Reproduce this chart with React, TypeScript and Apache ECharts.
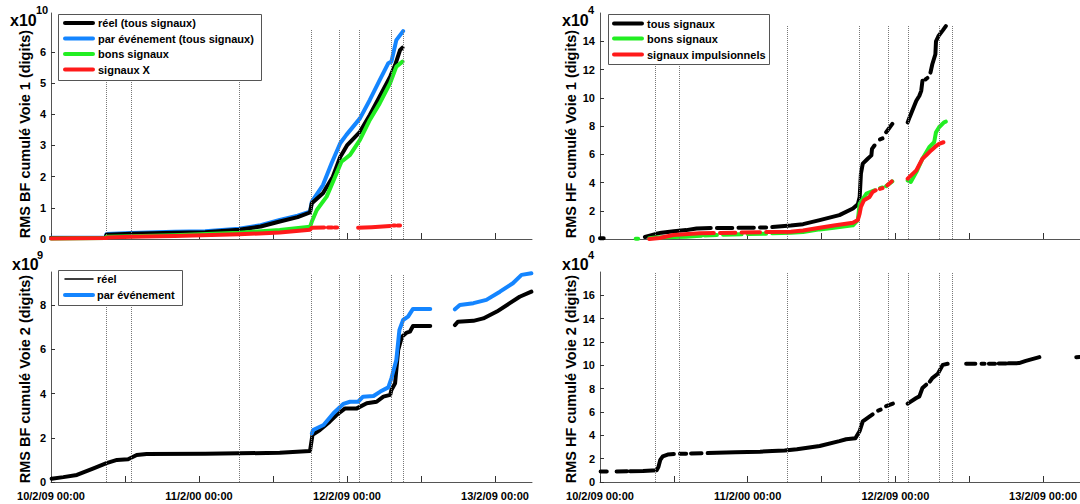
import React, { useEffect, useRef } from 'react';
import * as echarts from 'echarts';

const G = '-';

// time axis (hours since 10/2/09 00:00)
const xTickHours = [0, 12, 24, 36, 48, 60, 72];
const xLabelHours = [0, 24, 48, 72];
const xTickLabels = ['10/2/09 00:00', '11/2/00 00:00', '12/2/09 00:00', '13/2/09 00:00'];
const eventHours = [8.95, 12.95, 30.5, 42.2, 46.8, 50.05, 55.2, 57.2];

// y ticks
const yTicksTL = [0, 1, 2, 3, 4, 5, 6];
const yTicksBL = [0, 2, 4, 6, 8];
const yTicksTR = [0, 2, 4, 6, 8, 10, 12, 14];
const yTicksBR = [0, 2, 4, 6, 8, 10, 12, 14, 16];

// Top-left: RMS BF cumulé Voie 1 (x1e10)
const tlReel = [[0, 0.03], [8.9, 0.04], [9.0, 0.14], [13, 0.17], [20, 0.2], [25, 0.22], [30.5, 0.3], [34, 0.4], [37.1, 0.56], [40, 0.7], [42.0, 0.85], [42.3, 1.15], [44.1, 1.47], [45.7, 2.0], [46.9, 2.63], [48.0, 3.0], [50.1, 3.44], [51.7, 3.98], [53.3, 4.57], [55.0, 5.21], [55.8, 5.58], [56.6, 6.06], [57.0, 6.14]];
const tlEvenement = [[0, 0.04], [8.9, 0.05], [9.0, 0.16], [13, 0.19], [20, 0.23], [25, 0.25], [30.5, 0.33], [34, 0.44], [37.1, 0.61], [40, 0.75], [42.0, 0.88], [42.3, 1.2], [44.1, 1.73], [45.5, 2.43], [46.9, 3.07], [47.9, 3.34], [50.1, 3.87], [51.7, 4.46], [53.3, 5.1], [54.7, 5.64], [55.2, 5.69], [56.0, 6.38], [57.1, 6.67]];
const tlBons = [[0, 0.02], [8.9, 0.03], [9.0, 0.07], [13, 0.09], [20, 0.12], [30.5, 0.2], [37.1, 0.29], [42.0, 0.39], [42.3, 0.56], [43.1, 0.93], [44.7, 1.36], [46.3, 2.1], [47.1, 2.48], [48.5, 2.7], [50.1, 3.18], [51.7, 3.82], [53.3, 4.35], [55.0, 5.0], [56.0, 5.53], [57.0, 5.69]];
const tlX = [[0, 0.02], [9.0, 0.03], [9.1, 0.05], [13, 0.07], [20, 0.1], [30.5, 0.15], [37.1, 0.21], [42.0, 0.3], [42.3, 0.36], [44.3, 0.37], [44.5, G], [44.9, 0.37], [45.6, 0.37], [45.8, G], [46.0, 0.37], [46.4, 0.37], [46.6, G], [49.8, 0.36], [52, 0.38], [55.0, 0.42], [55.2, G], [55.5, 0.43], [55.8, 0.43], [56.0, G], [56.2, 0.43], [56.6, 0.43]];

// Top-right: RMS HF cumulé Voie 1 (x1e4)
const trTous = [[0, 0.05], [0.6, 0.05], [1, G], [7.3, 0.14], [9.0, 0.35], [10, 0.45], [12, 0.55], [14, 0.63], [15.7, 0.75], [18, 0.78], [18.4, G], [19, 0.78], [21.5, 0.78], [22, G], [22.5, 0.8], [25, 0.8], [25.5, G], [26, 0.82], [27, 0.82], [27.5, G], [28, 0.85], [31, 0.95], [33, 1.05], [35.7, 1.34], [38.9, 1.69], [41.1, 2.16], [41.9, 2.46], [42.2, 2.98], [42.4, 4.63], [42.7, 5.33], [43.5, 5.68], [44.1, 5.92], [44.2, 6.38], [44.6, 6.62], [45.0, G], [45.5, 7.05], [45.9, 7.12], [46.1, G], [46.5, 7.56], [47.5, 8.15], [48, G], [50.0, 8.26], [50.3, 8.61], [51.4, 9.79], [51.9, 10.14], [52.2, 10.49], [52.4, 11.2], [52.6, G], [52.9, 11.3], [53.2, 11.4], [53.4, G], [53.7, 11.78], [54.0, 12.37], [54.5, 13.08], [54.6, 14.0], [55.0, 14.37], [55.7, 14.77], [56.2, 15.07]];
const trBons = [[5.8, 0.02], [6.2, 0.02], [6.5, G], [8.0, 0.05], [9.0, 0.1], [12, 0.15], [14, 0.16], [15.7, 0.21], [16.5, 0.23], [16.8, G], [17, 0.25], [19, 0.28], [19.5, G], [20, 0.3], [23, 0.33], [23.5, G], [24, 0.35], [27, 0.38], [27.5, G], [28, 0.4], [31, 0.45], [33, 0.5], [35.7, 0.68], [38, 0.8], [41.1, 0.97], [41.9, 1.34], [42.2, 2.51], [43.3, 3.22], [44.6, 3.45], [45.0, G], [45.5, 3.6], [45.9, 3.65], [46.1, G], [46.5, 3.75], [47.5, 4.08], [48, G], [50.0, 4.15], [50.5, 4.04], [51.4, 4.74], [52.4, 5.68], [53.5, 6.5], [54.3, 6.85], [54.6, 7.56], [55.1, 7.91], [55.9, 8.26], [56.2, 8.31]];
const trImpulsionnels = [[8.0, 0.0], [9.7, 0.07], [11.9, 0.28], [16.2, 0.4], [18.5, 0.42], [19, G], [19.5, 0.43], [22, 0.45], [22.5, G], [23, 0.46], [26, 0.48], [26.5, G], [27, 0.5], [31, 0.52], [33, 0.6], [35.7, 0.8], [38, 0.95], [41.1, 1.15], [41.9, 1.34], [42.2, 1.81], [42.4, 2.28], [42.9, 2.75], [43.8, 2.98], [44.3, 3.33], [44.8, 3.45], [45.0, G], [45.5, 3.55], [45.9, 3.6], [46.1, G], [46.7, 3.8], [47.4, 4.08], [48, G], [50.0, 4.27], [51.4, 4.86], [52.4, 5.68], [53.0, 5.92], [53.8, 6.27], [54.4, 6.5], [55.1, 6.74], [55.8, 6.85]];

// Bottom-left: RMS BF cumulé Voie 2 (x1e9)
const blReel = [[0.1, 0.15], [2, 0.22], [4.2, 0.32], [6.9, 0.62], [9.0, 0.85], [10.7, 1.0], [12.5, 1.03], [13.9, 1.22], [15.5, 1.27], [25, 1.28], [37.1, 1.32], [42.0, 1.4], [42.4, 2.13], [43.6, 2.35], [45.2, 2.73], [46.3, 3.03], [47.7, 3.33], [49.6, 3.33], [51.2, 3.56], [52.8, 3.63], [53.9, 3.86], [55.0, 3.94], [55.2, 4.16], [55.8, 4.47], [56.3, 5.97], [56.9, 6.57], [57.7, 6.76], [58.2, 6.8], [58.7, 7.06], [61.5, 7.06], [62, G], [65.5, 7.1], [66.0, 7.25], [68.5, 7.29], [70.1, 7.4], [72.3, 7.71], [74.4, 8.09], [76.0, 8.38], [77.9, 8.61]];
const blEvenement = [[42.3, 2.2], [42.5, 2.35], [44.2, 2.58], [45.8, 3.11], [47.4, 3.53], [48.5, 3.63], [49.8, 3.63], [50.6, 3.86], [52.3, 3.89], [53.4, 4.09], [54.7, 4.28], [55.2, 4.69], [56.0, 5.52], [56.5, 6.88], [57.1, 7.33], [57.9, 7.48], [58.7, 7.83], [61.5, 7.83], [62, G], [65.5, 7.81], [66.3, 8.01], [68.5, 8.09], [70.6, 8.24], [72.8, 8.61], [74.9, 8.99], [76.3, 9.37], [77.9, 9.44]];

// Bottom-right: RMS HF cumulé Voie 2 (x1e4)
const brReel = [[0.1, 0.9], [1.1, 0.9], [1.5, G], [2.7, 0.9], [4.4, 0.92], [4.6, G], [4.9, 0.93], [7, 0.95], [9.2, 1.0], [9.5, 1.3], [9.8, 1.9], [10.2, 2.2], [11, 2.35], [12, 2.4], [12.5, G], [13, 2.42], [14, 2.43], [14.4, G], [14.8, 2.45], [16.5, 2.47], [17, G], [17.5, 2.48], [22, 2.55], [26, 2.6], [28, 2.65], [30, 2.7], [32, 2.8], [34, 2.95], [35.7, 3.09], [38.9, 3.5], [40.0, 3.66], [41.5, 3.75], [42.2, 4.37], [42.7, 5.2], [43.5, 5.5], [44.3, 5.79], [44.6, G], [45.2, 6.12], [45.6, 6.2], [45.8, G], [46.5, 6.5], [47.6, 6.72], [48, G], [50.0, 6.72], [51.4, 7.2], [51.9, 7.34], [52.4, 8.06], [53.0, 8.34], [53.3, G], [53.6, 8.6], [54.0, 8.91], [54.9, 9.28], [55.7, 10.04], [56.5, 10.13], [57, G], [59.5, 10.13], [61, 10.13], [61.3, G], [62, 10.13], [62.5, 10.13], [62.8, G], [63.2, 10.13], [64.2, 10.14], [64.5, G], [64.8, 10.15], [66, 10.16], [66.2, G], [66.4, 10.17], [68.1, 10.19], [69.2, 10.38], [71.4, 10.7], [72, G], [77.4, 10.7], [77.9, 10.72]];

const FONT = '"Liberation Sans", Arial, sans-serif';
const BLACK = '#000000';
const BLUE = '#1485ff';
const GREEN = '#22ee22';
const RED = '#ff1a1a';

function xAxis(gridIndex: number, showLabels: boolean) {
  return {
    type: 'value', gridIndex, min: 0, max: 78, interval: 12,
    axisLine: { show: true, onZero: false, lineStyle: { color: '#555', width: 1 } },
    axisTick: { show: true, inside: true, length: 6, customValues: xTickHours, lineStyle: { color: '#333' } },
    axisLabel: {
      show: showLabels, customValues: xLabelHours,
      formatter: (v: number) => { const i = xLabelHours.indexOf(v); return i >= 0 ? xTickLabels[i] : ''; },
      fontFamily: FONT, fontWeight: 'bold', fontSize: 11, color: '#000', margin: 8,
    },
    splitLine: { show: false },
  };
}

function yAxis(gridIndex: number, max: number, ticks: number[], name: string, shiftDown: number) {
  return {
    type: 'value', gridIndex, min: 0, max,
    axisLine: { show: true, onZero: false, lineStyle: { color: '#555', width: 1 } },
    axisTick: { show: true, inside: true, length: 4, customValues: ticks, lineStyle: { color: '#333' } },
    axisLabel: { customValues: ticks, fontFamily: FONT, fontWeight: 'bold', fontSize: 11, color: '#000', margin: 5 },
    splitLine: { show: false },
    name, nameLocation: 'middle', nameGap: 19, nameRotate: 90,
    nameTextStyle: { fontFamily: FONT, fontWeight: 'bold', fontSize: 14.5, color: '#000', padding: [0, shiftDown * 2, 0, 0] },
  };
}

function line(name: string, idx: number, data: any[], color: string, z: number, vtop?: number) {
  const s: any = {
    type: 'line', name, xAxisIndex: idx, yAxisIndex: idx, data,
    showSymbol: false, symbol: 'none', connectNulls: false, z,
    lineStyle: { width: 4, color, cap: 'round', join: 'round' },
    itemStyle: { color },
    animation: false,
  };
  if (vtop !== undefined) {
    s.markLine = {
      silent: true, symbol: ['none', 'none'], animation: false,
      label: { show: false },
      lineStyle: { type: 'dotted', color: '#777', width: 1 },
      data: eventHours.map((h) => [{ coord: [h, 0] }, { coord: [h, vtop] }]),
    };
  }
  return s;
}

function txt(x: number, y: number, text: string, size: number, align = 'left') {
  return {
    type: 'text', x, y, z: 101,
    style: { text, fontFamily: FONT, fontWeight: 'bold', fontSize: size, fill: '#000', align, verticalAlign: 'middle' },
  };
}

function legendBox(x: number, y: number, w: number, h: number, rows: { y: number; label: string; color: string; width: number }[], lx1: number, lx2: number, tx: number) {
  const els: any[] = [{
    type: 'rect', z: 100, shape: { x: x + 0.5, y: y + 0.5, width: w, height: h },
    style: { fill: '#fff', stroke: '#555', lineWidth: 1 },
  }];
  rows.forEach((r) => {
    els.push({ type: 'line', z: 101, shape: { x1: lx1, y1: r.y, x2: lx2, y2: r.y }, style: { stroke: r.color, lineWidth: r.width, lineCap: 'round' } });
    els.push(txt(tx, r.y, r.label, 11));
  });
  return els;
}

const option: any = {
  animation: false,
  backgroundColor: '#fff',
  grid: [
    { left: 51, top: 13, width: 481, height: 226 },
    { left: 51, top: 272, width: 481, height: 210 },
    { left: 600, top: 13, width: 481, height: 226 },
    { left: 600, top: 272, width: 481, height: 210 },
  ],
  xAxis: [xAxis(0, false), xAxis(1, true), xAxis(2, false), xAxis(3, true)],
  yAxis: [
    yAxis(0, 7.25, yTicksTL, 'RMS BF cumulé Voie 1 (digits)', 8),
    yAxis(1, 9.5, yTicksBL, 'RMS BF cumulé Voie 2 (digits)', 2),
    yAxis(2, 16, yTicksTR, 'RMS HF cumulé Voie 1 (digits)', 8),
    yAxis(3, 18, yTicksBR, 'RMS HF cumulé Voie 2 (digits)', 2),
  ],
  series: [
    line('par événement (tous signaux)', 0, tlEvenement, BLUE, 2, 6.72),
    line('réel (tous signaux)', 0, tlReel, BLACK, 3),
    line('bons signaux', 0, tlBons, GREEN, 4),
    line('signaux X', 0, tlX, RED, 5),
    line('réel', 1, blReel, BLACK, 3, 9.4),
    line('par événement', 1, blEvenement, BLUE, 4),
    line('tous signaux', 2, trTous, BLACK, 3, 15.1),
    line('bons signaux HF', 2, trBons, GREEN, 4),
    line('signaux impulsionnels', 2, trImpulsionnels, RED, 5),
    line('réel HF', 3, brReel, BLACK, 3, 18),
  ],
  graphic: [
    txt(10, 20, 'x10', 16), txt(36, 10, '10', 11),
    txt(12, 264, 'x10', 16), txt(37, 255, '9', 11),
    txt(562, 20, 'x10', 16), txt(588, 10, '4', 11),
    txt(562, 264, 'x10', 16), txt(588, 255, '4', 11),
    ...legendBox(58, 14, 203, 66, [
      { y: 23, label: 'réel (tous signaux)', color: BLACK, width: 4 },
      { y: 38.5, label: 'par événement (tous signaux)', color: BLUE, width: 4 },
      { y: 54, label: 'bons signaux', color: GREEN, width: 4 },
      { y: 69.5, label: 'signaux X', color: RED, width: 4 },
    ], 65, 93, 98),
    ...legendBox(608, 14, 161, 50, [
      { y: 23.5, label: 'tous signaux', color: BLACK, width: 4 },
      { y: 38.5, label: 'bons signaux', color: GREEN, width: 4 },
      { y: 54.5, label: 'signaux impulsionnels', color: RED, width: 4 },
    ], 614, 642, 647),
    ...legendBox(58, 270, 124, 35, [
      { y: 279, label: 'réel', color: BLACK, width: 1.5 },
      { y: 295, label: 'par événement', color: BLUE, width: 4 },
    ], 65, 93, 97),
  ],
};

export default function App() {
  const ref = useRef<HTMLDivElement>(null);
  useEffect(() => {
    const chart = echarts.init(ref.current as HTMLDivElement, null, { renderer: 'svg' });
    chart.setOption(option);
    return () => chart.dispose();
  }, []);
  return <div ref={ref} style={{ position: 'absolute', left: 0, top: 0, width: 1080, height: 504, background: '#fff' }} />;
}
